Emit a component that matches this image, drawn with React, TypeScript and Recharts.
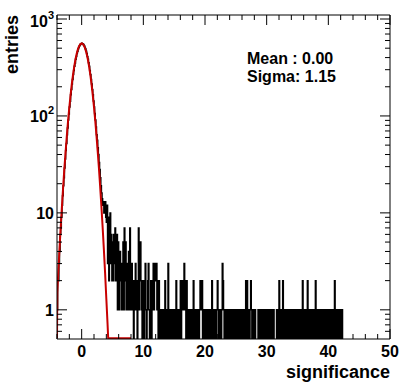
import React from 'react';
import { ComposedChart, Line, XAxis, YAxis } from 'recharts';

// ---- data ----
const binStart = -4;
const binWidth = 0.1;

// histogram contents, bins of 0.1 from -4.0 to 3.9
const coreCounts = [
  1, 2, 2, 3, 4, 6, 7, 9, 12, 15,
  19, 23, 29, 36, 44, 52, 64, 75, 91, 105,
  124, 142, 165, 187, 214, 238, 268, 295, 326, 352,
  385, 410, 441, 463, 490, 507, 528, 540, 553, 557,
  562, 556, 553, 539, 528, 508, 490, 464, 441, 411,
  385, 353, 326, 295, 268, 238, 214, 187, 165, 143,
  124, 106, 91, 77, 64, 56, 47, 40, 33, 28,
  23, 19, 16, 14, 12, 13, 10, 12, 13, 9,
];

// histogram contents, bins of 0.1 from 4.0 to 42.9
const tailCounts = [
  8, 12, 3, 9, 2, 7, 10, 3, 6, 2,
  5, 2, 6, 3, 7, 2, 4, 6, 1, 5,
  3, 1, 4, 2, 3, 1, 2, 5, 1, 7,
  2, 5, 1, 3, 1, 2, 4, 1, 7, 2,
  1, 3, 1, 2, 0, 2, 1, 3, 1, 2,
  0, 2, 7, 1, 3, 5, 2, 1, 0, 2,
  1, 0, 2, 3, 1, 0, 1, 2, 3, 1,
  0, 1, 2, 0, 1, 2, 3, 1, 2, 3,
  2, 3, 1, 2, 0, 2, 1, 0, 1, 0,
  1, 0, 1, 0, 1, 2, 0, 1, 0, 1,
  3, 0, 1, 0, 1, 0, 1, 1, 0, 1,
  0, 1, 0, 2, 0, 1, 0, 1, 0, 1,
  2, 0, 1, 2, 1, 2, 3, 1, 2, 0,
  2, 0, 1, 0, 1, 0, 1, 0, 1, 0,
  1, 2, 0, 1, 0, 1, 0, 1, 0, 1,
  0, 1, 2, 1, 2, 2, 0, 1, 0, 1,
  1, 0, 1, 0, 1, 0, 1, 0, 1, 0,
  1, 2, 0, 1, 0, 1, 0, 1, 0, 1,
  2, 1, 0, 1, 0, 1, 0, 1, 3, 2,
  1, 0, 1, 0, 1, 0, 1, 0, 0, 1,
  0, 1, 0, 1, 0, 1, 0, 1, 0, 1,
  0, 1, 0, 1, 0, 0, 1, 0, 1, 0,
  1, 0, 1, 0, 1, 0, 2, 0, 2, 1,
  0, 1, 0, 1, 2, 1, 0, 1, 0, 1,
  0, 1, 0, 0, 0, 0, 1, 0, 1, 0,
  1, 0, 1, 0, 1, 0, 1, 0, 1, 0,
  1, 0, 1, 0, 1, 0, 1, 0, 1, 0,
  0, 1, 0, 0, 0, 0, 1, 0, 1, 0,
  2, 0, 1, 0, 1, 0, 2, 1, 0, 1,
  0, 1, 0, 1, 0, 1, 0, 1, 0, 1,
  0, 1, 0, 1, 0, 1, 0, 1, 0, 1,
  0, 1, 0, 1, 0, 1, 0, 1, 2, 0,
  1, 0, 1, 0, 1, 0, 2, 0, 1, 0,
  1, 0, 1, 0, 1, 0, 1, 0, 0, 2,
  0, 1, 0, 1, 0, 1, 0, 1, 0, 1,
  0, 1, 0, 0, 1, 0, 1, 0, 1, 0,
  1, 0, 1, 0, 1, 0, 0, 1, 0, 1,
  2, 0, 1, 0, 1, 0, 1, 0, 1, 0,
  1, 0, 1, 0, 0, 0, 0, 0, 0, 0,
];

// red fit curve, read as points (values under the frame floor drawn at the floor)
const fitX = [
  -4.0, -3.95, -3.8, -3.6, -3.4, -3.2, -3.0, -2.8, -2.6, -2.4, -2.2, -2.0,
  -1.8, -1.6, -1.4, -1.2, -1.0, -0.8, -0.6, -0.4, -0.2, 0.0,
  0.2, 0.4, 0.6, 0.8, 1.0, 1.2, 1.4, 1.6, 1.8, 2.0,
  2.2, 2.4, 2.6, 2.8, 3.0, 3.2, 3.4, 3.6, 3.8, 4.0, 4.2, 4.3, 8.0,
];
const fitY = [
  0.51, 1.5, 2.4, 4.2, 7.1, 11.7, 18.6, 29, 43, 63, 90, 123,
  164, 213, 267, 325, 384, 440, 489, 527, 552, 560,
  552, 527, 489, 440, 384, 325, 267, 213, 164, 123,
  90, 63, 43, 29, 18.6, 11.7, 7.1, 4.2, 2.4, 1.3, 0.71, 0.51, 0.51,
];

const xTicks = [-4, -2, 0, 2, 4, 6, 8, 10, 12, 14, 16, 18, 20, 22, 24, 26, 28, 30, 32, 34, 36, 38, 40, 42, 44, 46, 48, 50];
const xMajor = [0, 10, 20, 30, 40, 50];
const yTicks = [0.6, 0.7, 0.8, 0.9, 1, 2, 3, 4, 5, 6, 7, 8, 9, 10, 20, 30, 40, 50, 60, 70, 80, 90, 100, 200, 300, 400, 500, 600, 700, 800, 900, 1000];
const yLabelBase: Record<number, string> = { 1: '1', 10: '10', 100: '10', 1000: '10' };
const yLabelExp: Record<number, string> = { 100: '2', 1000: '3' };

const xTitle = 'significance';
const yTitle = 'entries';
const statLines = ['Mean : 0.00', 'Sigma: 1.15'];

// ---- derived tables ----
const FLOOR = 0.05;
const counts = [...coreCounts, ...tailCounts];
const histData = counts.map((c, i) => ({
  x: Math.round((binStart + i * binWidth) * 100) / 100,
  h: c > 0 ? c : FLOOR,
}));
histData.push({ x: Math.round((binStart + counts.length * binWidth) * 100) / 100, h: FLOOR });
histData.push({ x: 50, h: FLOOR });

const fitData = fitX.map((x, i) => ({ x, f: fitY[i] }));

const FONT = '"Liberation Sans", Arial, Helvetica, sans-serif';

const BottomTick = (props: any) => {
  const { x, y, payload } = props;
  const v = payload.value;
  const major = xMajor.includes(v);
  const y0 = y - 1;
  return (
    <g>
      <line x1={x} x2={x} y1={y0} y2={y0 - (major ? 10 : 5)} stroke="#000" strokeWidth={1} />
      {major && (
        <text x={x} y={y0 + 18} textAnchor="middle" fontFamily={FONT} fontWeight="bold" fontSize={16} fill="#000">
          {v}
        </text>
      )}
    </g>
  );
};

const TopTick = (props: any) => {
  const { x, y, payload } = props;
  const major = xMajor.includes(payload.value);
  const y0 = y + 1;
  return <line x1={x} x2={x} y1={y0} y2={y0 + (major ? 10 : 5)} stroke="#000" strokeWidth={1} />;
};

const LeftTick = (props: any) => {
  const { x, y, payload } = props;
  const v = payload.value;
  const base = yLabelBase[v];
  const exp = yLabelExp[v];
  const x0 = x + 1;
  return (
    <g>
      <line x1={x0} x2={x0 + (base ? 10 : 5)} y1={y} y2={y} stroke="#000" strokeWidth={1} />
      {base && (
        <text x={x0 - 3} y={y + (v === 1000 ? 8 : 6)} textAnchor="end" fontFamily={FONT} fontWeight="bold" fontSize={16} fill="#000">
          {base}
          {exp && (
            <tspan dy={-8} fontSize={11}>
              {exp}
            </tspan>
          )}
        </text>
      )}
    </g>
  );
};

const RightTick = (props: any) => {
  const { x, y, payload } = props;
  const major = !!yLabelBase[payload.value];
  const x0 = x - 1;
  return <line x1={x0} x2={x0 - (major ? 10 : 5)} y1={y} y2={y} stroke="#000" strokeWidth={1} />;
};

export default function App() {
  return (
    <div style={{ position: 'absolute', left: 0, top: 0, width: 407, height: 386, background: '#fff' }}>
      <ComposedChart width={407} height={386} margin={{ top: 5, right: 7, bottom: 7, left: 7 }}>
        <XAxis
          xAxisId="b"
          type="number"
          dataKey="x"
          domain={[-4, 50]}
          allowDataOverflow
          ticks={xTicks}
          interval={0}
          height={40}
          tickSize={0}
          tickMargin={1}
          tickLine={false}
          axisLine={{ stroke: '#000', strokeWidth: 1 }}
          tick={(p: any) => <BottomTick {...p} />}
        />
        <XAxis
          xAxisId="t"
          orientation="top"
          type="number"
          dataKey="x"
          domain={[-4, 50]}
          allowDataOverflow
          ticks={xTicks}
          interval={0}
          height={10}
          tickSize={0}
          tickMargin={1}
          tickLine={false}
          axisLine={{ stroke: '#000', strokeWidth: 1 }}
          tick={(p: any) => <TopTick {...p} />}
        />
        <YAxis
          yAxisId="l"
          type="number"
          scale="log"
          domain={[0.5, 1100]}
          allowDataOverflow
          ticks={yTicks}
          interval={0}
          width={50}
          tickSize={0}
          tickMargin={1}
          tickLine={false}
          axisLine={{ stroke: '#000', strokeWidth: 1 }}
          tick={(p: any) => <LeftTick {...p} />}
        />
        <YAxis
          yAxisId="r"
          orientation="right"
          type="number"
          scale="log"
          domain={[0.5, 1100]}
          allowDataOverflow
          ticks={yTicks}
          interval={0}
          width={10}
          tickSize={0}
          tickMargin={1}
          tickLine={false}
          axisLine={{ stroke: '#000', strokeWidth: 1 }}
          tick={(p: any) => <RightTick {...p} />}
        />
        <Line
          xAxisId="b"
          yAxisId="l"
          data={histData}
          dataKey="h"
          type="stepAfter"
          stroke="#000"
          strokeWidth={1.5}
          dot={false}
          isAnimationActive={false}
        />
        <Line
          xAxisId="b"
          yAxisId="l"
          data={fitData}
          dataKey="f"
          type="linear"
          stroke="#c80000"
          strokeWidth={2}
          dot={false}
          isAnimationActive={false}
        />
      </ComposedChart>
      <svg width={407} height={386} style={{ position: 'absolute', left: 0, top: 0, pointerEvents: 'none' }}>
        <text x={390} y={378} textAnchor="end" fontFamily={FONT} fontWeight="bold" fontSize={18} fill="#000">
          {xTitle}
        </text>
        <text
          x={18}
          y={15}
          textAnchor="end"
          transform="rotate(-90 18 15)"
          fontFamily={FONT}
          fontWeight="bold"
          fontSize={18}
          fill="#000"
        >
          {yTitle}
        </text>
        <text x={247} y={64} fontFamily={FONT} fontWeight="bold" fontSize={16} fill="#000">
          {statLines[0]}
        </text>
        <text x={247} y={82} fontFamily={FONT} fontWeight="bold" fontSize={16} fill="#000">
          {statLines[1]}
        </text>
      </svg>
    </div>
  );
}
